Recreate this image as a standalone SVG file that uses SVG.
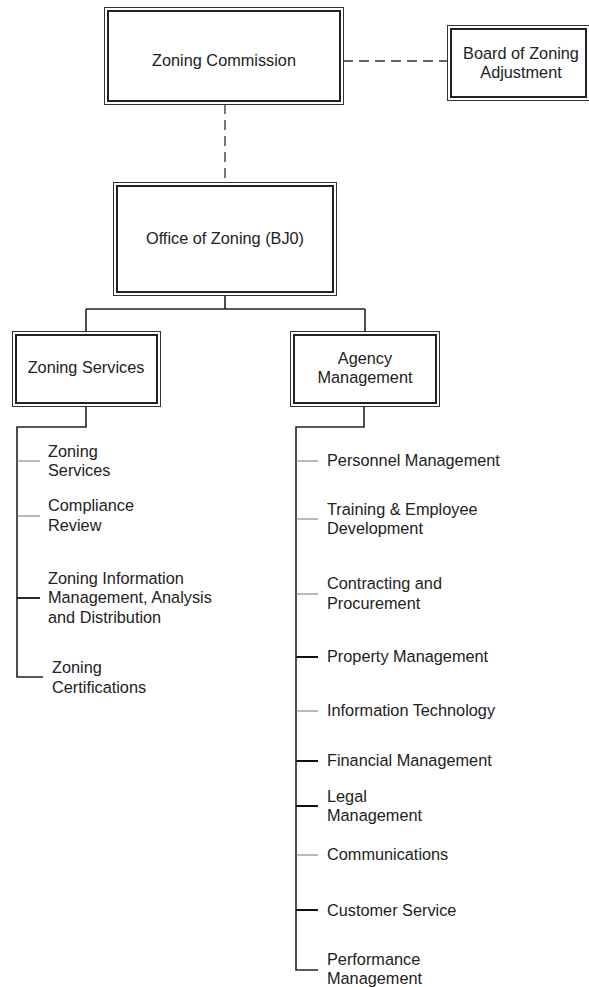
<svg xmlns="http://www.w3.org/2000/svg" width="589" height="987" viewBox="0 0 589 987">
<style>
text{font-family:"Liberation Sans",Arial,sans-serif;font-size:16.3px;fill:#222}
.c{text-anchor:middle}
.o{fill:#fff;stroke:#333;stroke-width:1}
.i{fill:none;stroke:#222;stroke-width:2}
.ln{fill:none;stroke:#222;stroke-width:1.6}
.dash{fill:none;stroke:#333;stroke-width:1.3;stroke-dasharray:10 6}
.tg{stroke:#777;stroke-width:1}
.tb{stroke:#111;stroke-width:1.8}
</style>
<rect width="589" height="987" fill="#fff"/>
<g id="connectors">
<path class="dash" d="M343 61H447"/>
<path class="dash" d="M225 104V182"/>
<path class="ln" d="M225 295V309M86 309H365M86 309V331M365 309V331"/>
<path class="ln" d="M86 406V427H17V677H43"/>
<path class="ln" d="M364 406V427H296V970H318"/>
<path class="tg" d="M17 461H40M17 516H40"/>
<path class="tb" d="M17 598H40"/>
<path class="tg" d="M296 461H318M296 519H318M296 594H318M296 711H318M296 855H318"/>
<path class="tb" d="M296 657H318M296 761H318M296 806H318M296 910H318"/>
</g>
<g id="zoning-commission">
<rect class="o" x="104.5" y="7.5" width="239" height="97"/>
<rect class="i" x="108" y="11" width="232" height="90"/>
<text class="c" x="224" y="66">Zoning Commission</text>
</g>
<g id="board-of-zoning-adjustment">
<rect class="o" x="447.5" y="25.5" width="143" height="75"/>
<rect class="i" x="451" y="29" width="135" height="68"/>
<text class="c" x="521" y="59">Board of Zoning</text>
<text class="c" x="521" y="78">Adjustment</text>
</g>
<g id="office-of-zoning">
<rect class="o" x="113.5" y="182.5" width="223" height="113"/>
<rect class="i" x="117" y="186" width="216" height="106"/>
<text class="c" x="225" y="244">Office of Zoning (BJ0)</text>
</g>
<g id="zoning-services">
<rect class="o" x="12.5" y="331.5" width="148" height="75"/>
<rect class="i" x="16" y="335" width="141" height="68"/>
<text class="c" x="86" y="373">Zoning Services</text>
</g>
<g id="agency-management">
<rect class="o" x="290.5" y="331.5" width="149" height="75"/>
<rect class="i" x="294" y="335" width="142" height="68"/>
<text class="c" x="365" y="364">Agency</text>
<text class="c" x="365" y="383">Management</text>
</g>
<g id="zs-zoning-services"><text x="48" y="457">Zoning</text><text x="48" y="476">Services</text></g>
<g id="zs-compliance-review"><text x="48" y="511">Compliance</text><text x="48" y="531">Review</text></g>
<g id="zs-zim"><text x="48" y="584">Zoning Information</text><text x="48" y="603">Management, Analysis</text><text x="48" y="623">and Distribution</text></g>
<g id="zs-certifications"><text x="52" y="673">Zoning</text><text x="52" y="693">Certifications</text></g>
<g id="am-personnel"><text x="327" y="466">Personnel Management</text></g>
<g id="am-training"><text x="327" y="515">Training &amp; Employee</text><text x="327" y="534">Development</text></g>
<g id="am-contracting"><text x="327" y="589">Contracting and</text><text x="327" y="609">Procurement</text></g>
<g id="am-property"><text x="327" y="662">Property Management</text></g>
<g id="am-it"><text x="327" y="716">Information Technology</text></g>
<g id="am-financial"><text x="327" y="766">Financial Management</text></g>
<g id="am-legal"><text x="327" y="802">Legal</text><text x="327" y="821">Management</text></g>
<g id="am-communications"><text x="327" y="860">Communications</text></g>
<g id="am-customer"><text x="327" y="916">Customer Service</text></g>
<g id="am-performance"><text x="327" y="965">Performance</text><text x="327" y="984">Management</text></g>
</svg>
